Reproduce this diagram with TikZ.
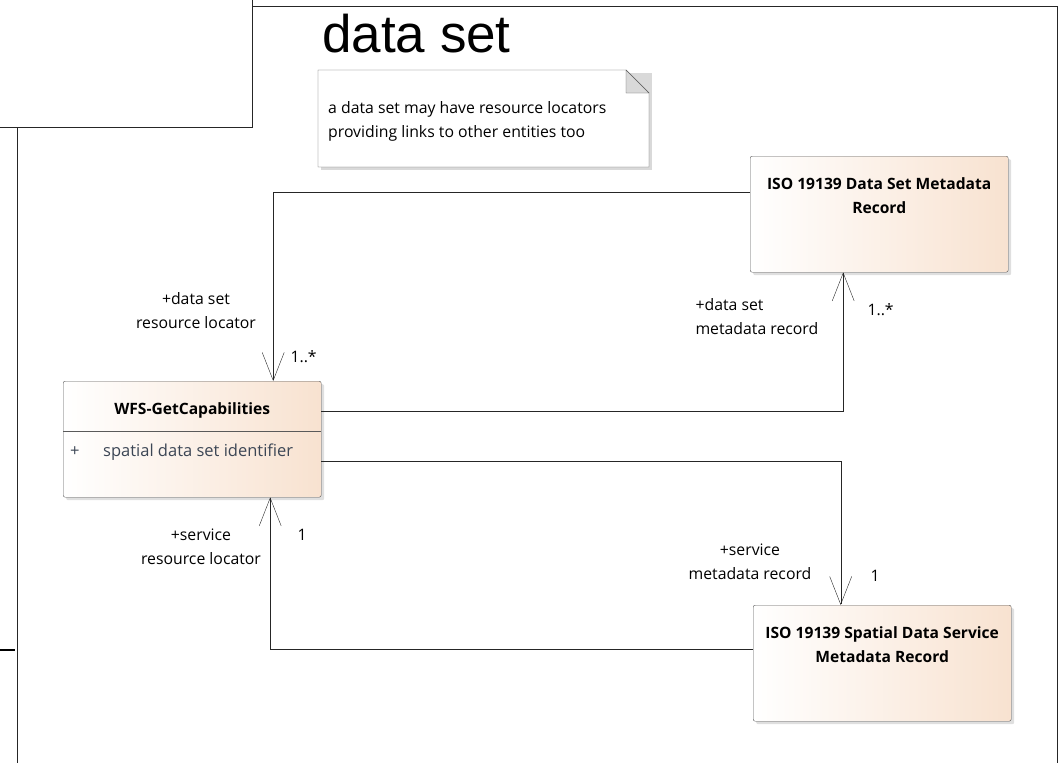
\documentclass[tikz,border=0pt]{standalone}
\usepackage{fontspec}
\setmainfont{Open Sans}
\newfontfamily\titlefont{Liberation Sans}
\usetikzlibrary{arrows.meta,shadows}

\definecolor{peach}{RGB}{248,226,208}
\definecolor{boxline}{RGB}{90,90,90}
\definecolor{attrtext}{RGB}{60,70,85}

\tikzset{
  classbox/.style={draw=boxline, rounded corners=2pt, left color=white, right color=peach,
    drop shadow={shadow xshift=3pt, shadow yshift=-3pt, fill=black!25},
    minimum width=258pt, minimum height=116pt, inner sep=0pt, anchor=north west},
  classname/.style={font=\fontsize{15.6}{24}\selectfont\bfseries, align=center, anchor=north},
  rolename/.style={font=\fontsize{15.8}{24}\selectfont, align=center},
  assoc/.style={draw=black!85, -{Straight Barb[length=28pt,width=22pt]}},
}

\begin{document}
\begin{tikzpicture}[x=1pt,y=-1pt]
 \useasboundingbox (0,0) rectangle (1061,763);

 % frame of the diagram
 \draw[black!85] (0,127) -- (252,127) -- (252,0);
 \draw[black!85] (252,6) -- (1057,6) -- (1057,763);
 \draw[black!85] (17,127) -- (17,763);
 \draw[black, line width=1.5pt] (0,650) -- (15,650);
 \node[anchor=base west, inner sep=0pt, font=\fontsize{53}{53}\selectfont\titlefont] (title) at (322,52) {data set};

 % note
 \fill[black!15] (321,73) -- (652,73) -- (652,170) -- (321,170) -- cycle;
 \draw[boxline, fill=white] (318,70) -- (626,70) -- (649,93) -- (649,167) -- (318,167) -- cycle;
 \draw[boxline, fill=black!15] (626,70) -- (626,93) -- (649,93) -- cycle;
 \node[anchor=north west, align=left, inner sep=0pt, font=\fontsize{15.8}{24}\selectfont] (note) at (328,101)
   {a data set may have resource locators\\providing links to other entities too};

 % classes
 \node[classbox] (dsrec) at (750,156) {};
 \node[classname] (dsname) at ([yshift=-18pt]dsrec.north) {ISO 19139 Data Set Metadata\\Record};

 \node[classbox] (wfs) at (63,381) {};
 \node[classname] (wfsname) at ([yshift=-18pt]wfs.north) {WFS-GetCapabilities};
 \draw[boxline] ([yshift=-50pt]wfs.north west) -- ([yshift=-50pt]wfs.north east);
 \node[anchor=base west, inner sep=0pt, text=attrtext, font=\fontsize{16.5}{24}\selectfont] (wfsplus) at (70,456) {+};
 \node[anchor=base west, inner sep=0pt, text=attrtext, font=\fontsize{16.5}{24}\selectfont] (wfsattr) at (103,456) {spatial data set identifier};

 \node[classbox] (srvrec) at (753,605) {};
 \node[classname] (srvname) at ([yshift=-18pt]srvrec.north) {ISO 19139 Spatial Data Service\\Metadata Record};

 % associations
 \draw[assoc] ([yshift=22pt]dsrec.west) -| ([xshift=81pt]wfs.north);
 \draw[assoc] ([yshift=28pt]wfs.east) -| ([xshift=-36pt]dsrec.south);
 \draw[assoc] ([yshift=-22pt]wfs.east) -| ([xshift=-41.5pt]srvrec.north);
 \draw[assoc] ([yshift=14pt]srvrec.west) -| ([xshift=78pt]wfs.south);

 % role names and multiplicities
 \node[rolename] (r1) at (196,311) {+data set\\resource locator};
 \node[rolename, anchor=west] (m1) at (287,357) {1..*};
 \node[rolename, align=left, anchor=west] (r2) at (692,317) {+data set\\metadata record};
 \node[rolename, anchor=west] (m2) at (864,310) {1..*};
 \node[rolename] (r3) at (201,547) {+service\\resource locator};
 \node[rolename, anchor=west] (m3) at (294,535) {1};
 \node[rolename] (r4) at (750,562) {+service\\metadata record};
 \node[rolename, anchor=west] (m4) at (867,576) {1};
\end{tikzpicture}
\end{document}
